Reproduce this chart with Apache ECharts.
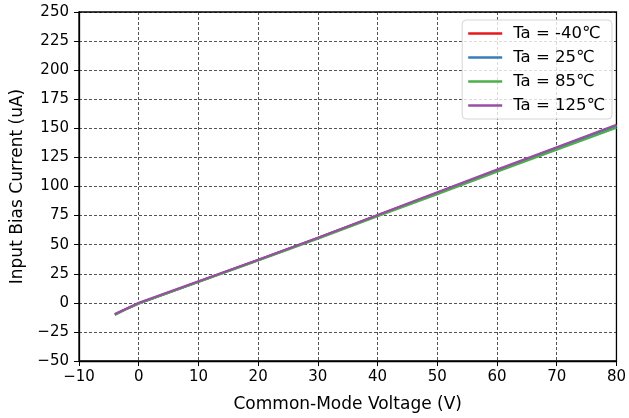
<!DOCTYPE html>
<html>
<head>
<meta charset="utf-8">
<script src="https://cdn.jsdelivr.net/npm/echarts@6/dist/echarts.min.js"></script>
<style>
  html, body { margin: 0; padding: 0; background: #fff; }
  #chart { width: 629px; height: 418px; }
</style>
</head>
<body>
<div id="chart"></div>
<script>
// Common-mode voltage sweep (V)
const vcm = [-4, -2, 0, 10, 20, 30, 40, 50, 60, 70, 80];

// Input bias current (uA) at each ambient temperature
const ibM40 = [-10, -5, -0.5, 18.2, 36.8, 55.8, 75.2, 94.6, 114.0, 133.2, 152.4];
const ib25  = [-10, -5, -0.5, 18.1, 36.7, 55.7, 75.0, 94.4, 113.8, 133.0, 152.0];
const ib85  = [-10.4, -5.2, -0.6, 18.0, 36.4, 55.2, 74.4, 93.4, 112.6, 131.6, 150.6];
const ib125 = [-9.6, -4.8, 0, 18.5, 37.0, 56.0, 75.5, 95.0, 114.5, 133.8, 153.0];

const seriesNames = ['Ta = -40\u2103', 'Ta = 25\u2103', 'Ta = 85\u2103', 'Ta = 125\u2103'];
const seriesColors = ['#e41a1c', '#377eb8', '#4daf4a', '#984ea3'];
const seriesData = [ibM40, ib25, ib85, ib125];

const xTicks = { min: -10, max: 80, interval: 10 };
const yTicks = { min: -50, max: 250, interval: 25 };

const FONT = 'DejaVu Sans';
const minus = v => String(v).replace('-', '\u2212');

const chart = echarts.init(document.getElementById('chart'), null, { renderer: 'canvas' });

const gridLine = { show: true, lineStyle: { color: '#000', type: [3, 2], width: 0.8, opacity: 0.85 } };

chart.setOption({
  animation: false,
  backgroundColor: '#fff',
  grid: {
    left: 79, right: 9, top: 12, bottom: 55,
    show: true, borderColor: '#000', borderWidth: 1.3, backgroundColor: 'transparent'
  },
  legend: {
    orient: 'vertical',
    right: 17, top: 20,
    data: seriesNames,
    icon: 'rect',
    itemWidth: 34, itemHeight: 2.5,
    itemGap: 7,
    padding: [5, 7, 5, 6],
    borderColor: '#d6d6d6', borderWidth: 1, borderRadius: 4,
    backgroundColor: 'rgba(255,255,255,0.8)',
    textStyle: { fontFamily: FONT, fontSize: 16.5, lineHeight: 16, color: '#000', padding: [0, 0, 0, 6] }
  },
  xAxis: {
    type: 'value',
    min: xTicks.min, max: xTicks.max, interval: xTicks.interval,
    name: 'Common-Mode Voltage (V)',
    nameLocation: 'middle', nameGap: 35,
    nameTextStyle: { fontFamily: FONT, fontSize: 17, color: '#000' },
    axisLine: { show: true, onZero: false, lineStyle: { color: '#000', width: 1.3 } },
    axisTick: { show: true, length: 5, lineStyle: { color: '#000', width: 1 } },
    axisLabel: { fontFamily: FONT, fontSize: 15, color: '#000', margin: 9, formatter: minus },
    splitLine: gridLine
  },
  yAxis: {
    type: 'value',
    min: yTicks.min, max: yTicks.max, interval: yTicks.interval,
    name: 'Input Bias Current (uA)',
    nameLocation: 'middle', nameGap: 52,
    nameTextStyle: { fontFamily: FONT, fontSize: 17, color: '#000' },
    axisLine: { show: true, onZero: false, lineStyle: { color: '#000', width: 1.3 } },
    axisTick: { show: true, length: 5, lineStyle: { color: '#000', width: 1 } },
    axisLabel: { fontFamily: FONT, fontSize: 15, color: '#000', margin: 10, formatter: minus },
    splitLine: gridLine
  },
  series: seriesNames.map((name, i) => ({
    name: name,
    type: 'line',
    data: vcm.map((x, j) => [x, seriesData[i][j]]),
    showSymbol: false,
    smooth: false,
    lineStyle: { color: seriesColors[i], width: 2.2 },
    itemStyle: { color: seriesColors[i] },
    z: 2 + i
  }))
});
</script>
</body>
</html>
